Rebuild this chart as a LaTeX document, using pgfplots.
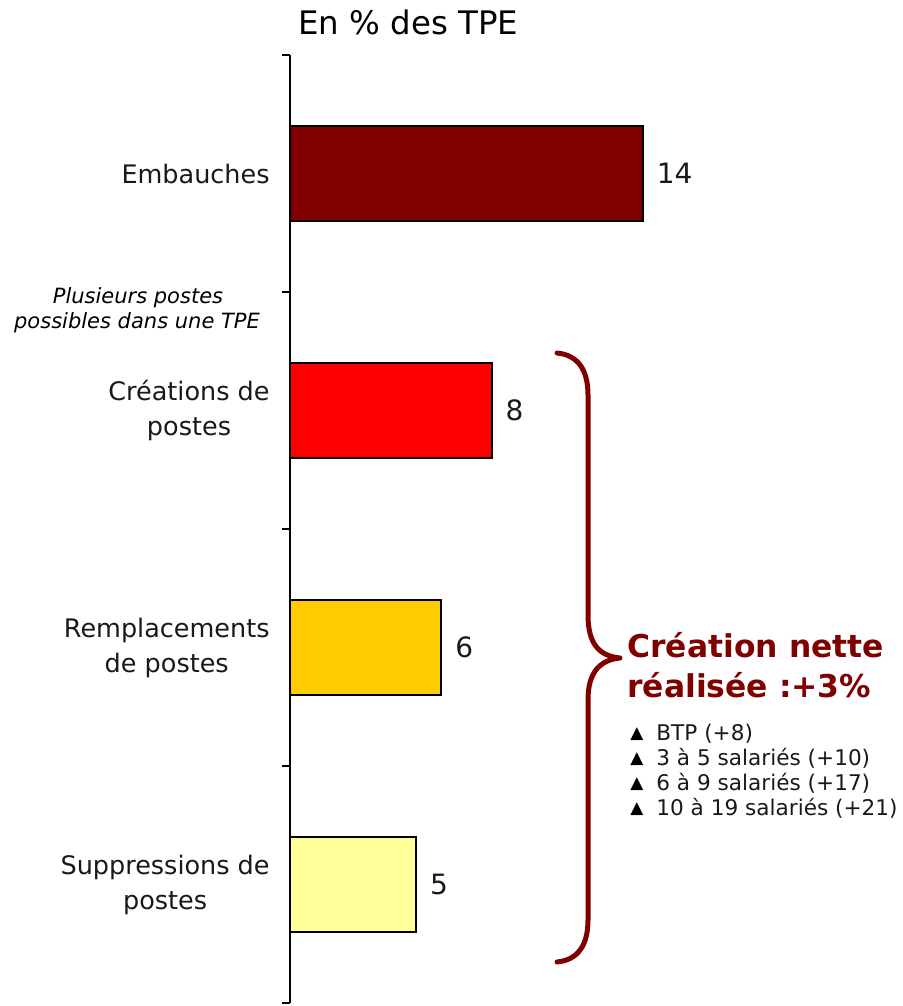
\documentclass[border=0pt]{standalone}
\usepackage{fontspec}
\setmainfont{DejaVu Sans}
\usepackage{pgfplots}
\pgfplotsset{compat=1.18}
\definecolor{darkred}{HTML}{800000}
\definecolor{cred}{HTML}{FF0000}
\definecolor{cyellow}{HTML}{FFCC00}
\definecolor{clight}{HTML}{FFFF99}
\begin{document}
\begin{tikzpicture}
\path[use as bounding box] (0,0) rectangle (451pt,-503pt);
\begin{axis}[
  at={(145pt,-501.5pt)}, anchor=south west,
  scale only axis, width=302.5pt, height=474pt,
  xmin=0, xmax=24, ymin=-0.5, ymax=3.5, y dir=reverse,
  xbar, bar width=47.5pt, bar shift=0pt,
  axis x line=none, axis y line=left,
  y axis line style={-, line width=0.9pt, black},
  ytick={0,1,2,3},
  yticklabels={Embauches,{Créations de\\postes},{Remplacements\\de postes},{Suppressions de\\postes}},
  major tick length=0pt,
  minor ytick={-0.5,0.5,1.5,2.5,3.5},
  minor tick length=4pt,
  tick align=outside,
  tick style={line width=0.9pt, black},
  yticklabel style={align=center, inner sep=0pt, xshift=-10pt, font=\fontsize{12.75}{17.5}\selectfont, text=black!90},
  /pgf/number format/assume math mode=true,
  nodes near coords,
  nodes near coords align={horizontal},
  every node near coord/.append style={anchor=west, inner sep=0pt, xshift=6.5pt, font=\fontsize{14}{16}\selectfont, text=black!90},
  clip=false,
]
\addplot[fill=darkred, draw=black, line width=1pt] coordinates {(14,0)};
\addplot[fill=cred, draw=black, line width=1pt] coordinates {(8,1)};
\addplot[fill=cyellow, draw=black, line width=1pt] coordinates {(6,2)};
\addplot[fill=clight, draw=black, line width=1pt] coordinates {(5,3)};
\end{axis}
\begin{scope}[x=0.5pt, y=-0.5pt]
\node[anchor=base west, inner sep=0pt, font=\fontsize{16.2}{18}\selectfont] at (298,35) {En \% des TPE};
\node[anchor=base, inner sep=0pt, font=\fontsize{10.5}{13}\selectfont\itshape] at (138,303) {Plusieurs postes};
\node[anchor=base, inner sep=0pt, font=\fontsize{10.5}{13}\selectfont\itshape] at (137,328) {possibles dans une TPE};
\draw[darkred, line width=2.5pt, line cap=round, line join=round]
  (557,353) .. controls (578,355) and (588,370) .. (588,395)
  -- (588,615) .. controls (588,645) and (600,656) .. (620,658)
  .. controls (600,660) and (588,672) .. (588,700)
  -- (588,920) .. controls (588,945) and (578,960) .. (557,962);
\node[anchor=base west, inner sep=0pt, text=darkred, font=\fontsize{15.7}{18}\selectfont\bfseries] at (627,657) {Création nette};
\node[anchor=base west, inner sep=0pt, text=darkred, font=\fontsize{15.7}{18}\selectfont\bfseries] at (627,697) {réalisée :+3\%};
\foreach \y/\t in {740/{BTP (+8)}, 765/{3 à 5 salariés (+10)}, 790/{6 à 9 salariés (+17)}, 815/{10 à 19 salariés (+21)}} {
  \node[anchor=base west, inner sep=0pt, font=\fontsize{8.5}{10}\selectfont] at (630,\y-2) {▲};
  \node[anchor=base west, inner sep=0pt, font=\fontsize{10.8}{12}\selectfont, text=black!90] at (656,\y) {\t};
}
\end{scope}
\end{tikzpicture}
\end{document}
